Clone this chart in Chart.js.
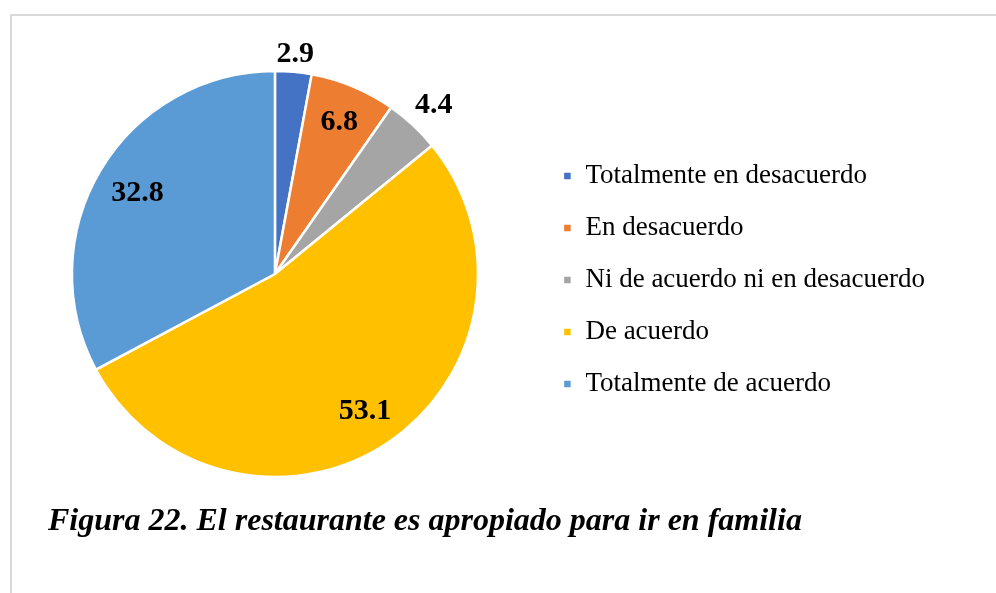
<!DOCTYPE html>
<html>
<head>
<meta charset="utf-8">
<script src="https://cdn.jsdelivr.net/npm/chart.js"></script>
<style>
  html, body { margin: 0; padding: 0; background: #fff; }
  body { width: 996px; height: 593px; position: relative; overflow: hidden; }
  #frame { position: absolute; left: 10px; top: 14px; width: 1000px; height: 600px; border: 2px solid #d9d9d9; box-sizing: border-box; }
  #wrap { position: absolute; left: 0; top: 0; width: 996px; height: 593px; }
  #caption { position: absolute; left: 48px; top: 502px; font: italic bold 32px "Liberation Serif", "Times New Roman", serif; line-height: 34px; color: #000; white-space: nowrap; }
</style>
</head>
<body>
<div id="frame"></div>
<div id="wrap"><canvas id="pie"></canvas></div>
<div id="caption">Figura 22. El restaurante es apropiado para ir en familia</div>
<script>
// datos del gráfico
const categorias = ['Totalmente en desacuerdo', 'En desacuerdo', 'Ni de acuerdo ni en desacuerdo', 'De acuerdo', 'Totalmente de acuerdo'];
const porcentajes = [2.9, 6.8, 4.4, 53.1, 32.8];
const colores = ['#4472C4', '#ED7D31', '#A5A5A5', '#FFC000', '#5B9BD5'];

// distancia de cada etiqueta al centro (fracción del radio)
const distEtiqueta = [1.10, 0.82, 1.15, 0.80, 0.79];

const etiquetasPlugin = {
  id: 'etiquetas',
  afterDatasetsDraw(chart) {
    const ctx = chart.ctx;
    const arcs = chart.getDatasetMeta(0).data;
    ctx.save();
    ctx.font = 'bold 30px "Liberation Serif", "Times New Roman", serif';
    ctx.fillStyle = '#000';
    ctx.textAlign = 'center';
    ctx.textBaseline = 'alphabetic';
    arcs.forEach((arc, i) => {
      const a = (arc.startAngle + arc.endAngle) / 2;
      const r = arc.outerRadius * distEtiqueta[i];
      // +10 = media altura de las cifras, para centrarlas a la vista
      ctx.fillText(porcentajes[i].toFixed(1), arc.x + Math.cos(a) * r, arc.y + Math.sin(a) * r + 10);
    });
    ctx.restore();
  }
};

new Chart(document.getElementById('pie'), {
  type: 'pie',
  data: {
    labels: categorias,
    datasets: [{
      data: porcentajes,
      backgroundColor: colores,
      borderColor: '#fff',
      borderWidth: 2.5,
      hoverOffset: 0,
      radius: 203
    }]
  },
  options: {
    responsive: true,
    maintainAspectRatio: false,
    animation: false,
    layout: { padding: { left: 12, right: 61, top: 22, bottom: 67 } },
    plugins: {
      tooltip: { enabled: false },
      legend: {
        position: 'right',
        title: { display: true, text: '', font: { size: 10 }, padding: 0 },
        labels: {
          boxWidth: 9,
          boxHeight: 9,
          padding: 25,
          color: '#000',
          font: { family: '"Liberation Serif", "Times New Roman", serif', size: 27 }
        }
      }
    }
  },
  plugins: [etiquetasPlugin]
});
</script>
</body>
</html>
